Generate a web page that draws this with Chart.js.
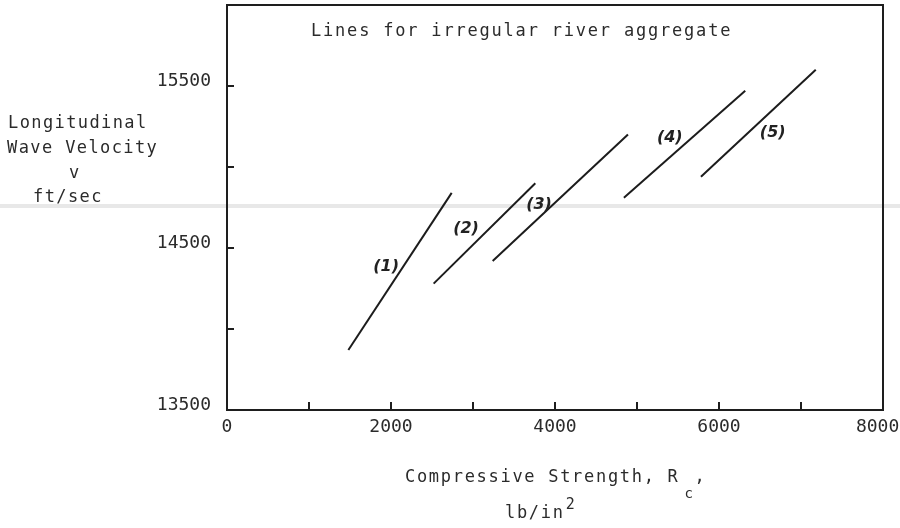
<!DOCTYPE html>
<html>
<head>
<meta charset="utf-8">
<script src="https://cdn.jsdelivr.net/npm/chart.js@4.4.1/dist/chart.umd.min.js"></script>
<style>
  body { margin: 0; background: #fff; }
  #wrap { width: 900px; height: 528px; }
</style>
</head>
<body>
<div id="wrap"><canvas id="graph"></canvas></div>
<script>
// Lines for irregular river aggregate : end points
// strength in lb/in^2, velocity in ft/sec
const lineNames = ['(1)', '(2)', '(3)', '(4)', '(5)'];
const strengthStart = [1480, 2520, 3240, 4840, 5780];
const strengthEnd = [2740, 3760, 4890, 6320, 7180];
const velocityStart = [13870, 14280, 14420, 14810, 14940];
const velocityEnd = [14840, 14900, 15200, 15470, 15600];

// where the hand-written numbers sit (axis units)
const nameStrength = [1940, 2915, 3805, 5400, 6655];
const nameVelocity = [14385, 14617, 14765, 15179, 15208];

// tick labels
const xLabels = [0, 2000, 4000, 6000, 8000];
const yLabels = [13500, 14500, 15500];

const MONO = '"DejaVu Sans Mono", monospace';
const INK = '#2b2b2b';

// typed text with wide letter spacing, like the original typewriter
function typed(ctx, text, x, y, size, spacing, align) {
    ctx.font = size + 'px ' + MONO;
    ctx.letterSpacing = spacing + 'px';
    ctx.textAlign = align || 'left';
    ctx.textBaseline = 'alphabetic';
    ctx.fillText(text, x, y);
    return ctx.measureText(text).width;
}

const habillage = {
    id: 'habillage',
    beforeDatasetsDraw(chart) {
        const { ctx, width } = chart;
        // pale band left by the scanner
        ctx.save();
        ctx.fillStyle = '#e8e8e8';
        ctx.fillRect(0, 204, width, 4);
        ctx.restore();
    },
    afterDraw(chart) {
        const { ctx, chartArea: a, scales } = chart;
        ctx.save();

        // frame
        ctx.strokeStyle = '#1e1e1e';
        ctx.lineWidth = 2;
        ctx.strokeRect(a.left, a.top, a.right - a.left, a.bottom - a.top);

        // inward tick marks
        ctx.beginPath();
        scales.x.ticks.forEach(t => {
            if (t.value <= scales.x.min || t.value >= scales.x.max) return;
            const px = scales.x.getPixelForValue(t.value);
            ctx.moveTo(px, a.bottom);
            ctx.lineTo(px, a.bottom - 8);
        });
        scales.y.ticks.forEach(t => {
            if (t.value <= scales.y.min || t.value >= scales.y.max) return;
            const py = scales.y.getPixelForValue(t.value);
            ctx.moveTo(a.left, py);
            ctx.lineTo(a.left + 7, py);
        });
        ctx.stroke();

        // hand-written line numbers
        ctx.fillStyle = '#222';
        ctx.font = 'italic 600 16px "DejaVu Sans"';
        ctx.textAlign = 'center';
        ctx.textBaseline = 'middle';
        lineNames.forEach((n, i) => {
            ctx.fillText(n, scales.x.getPixelForValue(nameStrength[i]),
                scales.y.getPixelForValue(nameVelocity[i]));
        });

        // titles
        ctx.fillStyle = INK;
        typed(ctx, 'Lines for irregular river aggregate', 311, 36, 17, 1.8);

        typed(ctx, 'Longitudinal', 8, 128, 17, 1.4);
        typed(ctx, 'Wave Velocity', 7, 153, 17, 1.4);
        typed(ctx, 'v', 74, 178, 17, 0, 'center');
        typed(ctx, 'ft/sec', 33, 202, 17, 1.4);

        const w = typed(ctx, 'Compressive Strength, R', 405, 482, 17, 1.7);
        typed(ctx, 'c', 405 + w + 5, 498, 14, 0);
        typed(ctx, ',', 405 + w + 15, 482, 17, 0);
        const w2 = typed(ctx, 'lb/in', 505, 518, 17, 1.7);
        typed(ctx, '2', 505 + w2 + 1, 509, 15, 0);

        ctx.restore();
    }
};

const datasets = lineNames.map((n, i) => ({
    label: n,
    data: [
        { x: strengthStart[i], y: velocityStart[i] },
        { x: strengthEnd[i], y: velocityEnd[i] }
    ],
    showLine: true,
    borderColor: '#1c1c1c',
    borderWidth: 2,
    pointRadius: 0
}));

new Chart(document.getElementById('graph'), {
    type: 'scatter',
    data: { datasets },
    plugins: [habillage],
    options: {
        responsive: true,
        maintainAspectRatio: false,
        animation: false,
        layout: { padding: { top: 5, right: 17, left: 0, bottom: 0 } },
        plugins: { legend: { display: false }, tooltip: { enabled: false } },
        scales: {
            x: {
                type: 'linear',
                min: 0,
                max: 8000,
                grid: { display: false, drawTicks: false },
                border: { display: false },
                ticks: {
                    stepSize: 1000,
                    includeBounds: false,
                    autoSkip: false,
                    maxRotation: 0,
                    padding: 7,
                    color: INK,
                    font: { family: MONO, size: 18 },
                    // the last label sits a little left of its tick in the original
                    callback: v => !xLabels.includes(v) ? '' : (v === 8000 ? v + ' ' : String(v))
                },
                afterFit(scale) {
                    scale.height = 118;
                    scale.paddingLeft = 0;
                    scale.paddingRight = 0;
                }
            },
            y: {
                type: 'linear',
                min: 13500,
                max: 16000,
                grid: { display: false, drawTicks: false },
                border: { display: false },
                ticks: {
                    stepSize: 500,
                    includeBounds: false,
                    autoSkip: false,
                    padding: 16,
                    labelOffset: -5,
                    color: INK,
                    font: { family: MONO, size: 18 },
                    callback: v => yLabels.includes(v) ? String(v) : ''
                },
                afterFit(scale) {
                    scale.width = 227;
                    scale.paddingTop = 0;
                    scale.paddingBottom = 0;
                }
            }
        }
    }
});
</script>
</body>
</html>
